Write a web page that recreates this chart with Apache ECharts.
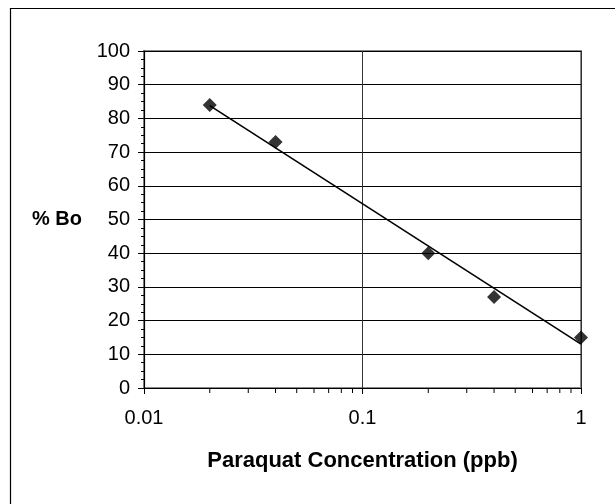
<!DOCTYPE html>
<html>
<head>
<meta charset="utf-8">
<script src="https://cdn.jsdelivr.net/npm/echarts@6/dist/echarts.min.js"></script>
<style>
html,body{margin:0;padding:0;background:#fff;}
#chart{width:615px;height:504px;}
</style>
</head>
<body>
<div id="chart"></div>
<script>
// Data
var concentration = [0.02, 0.04, 0.2, 0.4, 1];
var percentBo = [84, 73, 40, 27, 15];
// trend line end points
var trendX = [0.02, 1];
var trendY = [83.8, 13];
// x-axis minor tick positions (log decades)
var xMinorTicks = [0.02,0.03,0.04,0.05,0.06,0.07,0.08,0.09,0.2,0.3,0.4,0.5,0.6,0.7,0.8,0.9];
var xTickLabels = ['0.01', '0.1', '1'];
var xTitle = 'Paraquat Concentration (ppb)';
var yTitle = '% Bo';

var FONT = 'Liberation Sans, Arial, sans-serif';
var chart = echarts.init(document.getElementById('chart'), null, {renderer: 'canvas'});

var option = {
  backgroundColor: '#fff',
  animation: false,
  graphic: [{
    type: 'rect',
    left: 8, top: 6,
    shape: {width: 700, height: 600},
    style: {fill: 'none', stroke: '#000', lineWidth: 1.2},
    silent: true,
    z: -10
  }],
  grid: {
    left: 144, right: 34, top: 51, bottom: 116,
    show: true,
    borderColor: '#888',
    borderWidth: 2,
    backgroundColor: 'transparent'
  },
  xAxis: {
    type: 'log',
    logBase: 10,
    min: 0.01,
    max: 1,
    name: xTitle,
    nameLocation: 'middle',
    nameGap: 62,
    nameTextStyle: {fontFamily: FONT, fontSize: 22, fontWeight: 'bold', color: '#000'},
    axisLine: {show: true, lineStyle: {color: '#000', width: 1.2}},
    axisTick: {show: true, length: 6, lineStyle: {color: '#000', width: 1}},
    axisLabel: {
      fontFamily: FONT, fontSize: 20, color: '#000', margin: 20,
      formatter: function (v) {
        var idx = Math.round(Math.log10(v) + 2);
        return xTickLabels[idx] !== undefined ? xTickLabels[idx] : '';
      }
    },
    splitLine: {show: true, lineStyle: {color: '#333', width: 1}}
  },
  yAxis: {
    type: 'value',
    min: 0,
    max: 100,
    interval: 10,
    name: yTitle,
    nameLocation: 'middle',
    nameRotate: 0,
    nameGap: 62,
    nameTextStyle: {fontFamily: FONT, fontSize: 20, fontWeight: 'bold', color: '#000'},
    axisLine: {show: true, lineStyle: {color: '#000', width: 1.2}},
    axisTick: {show: true, length: 6, lineStyle: {color: '#000', width: 1}},
    minorTick: {show: true, splitNumber: 4, length: 3, lineStyle: {color: '#000', width: 1}},
    axisLabel: {fontFamily: FONT, fontSize: 20, color: '#000', margin: 14},
    splitLine: {show: true, lineStyle: {color: '#000', width: 1}}
  },
  series: [
    {
      type: 'line',
      name: 'trend',
      data: trendX.map(function (x, i) { return [x, trendY[i]]; }),
      showSymbol: false,
      symbol: 'none',
      lineStyle: {color: '#000', width: 1.6},
      z: 3
    },
    {
      type: 'scatter',
      name: '% Bo',
      data: concentration.map(function (x, i) { return [x, percentBo[i]]; }),
      symbol: 'diamond',
      symbolSize: 14,
      itemStyle: {color: '#000'},
      clip: false,
      z: 4
    },
    {
      type: 'custom',
      name: 'minorTicks',
      data: xMinorTicks.map(function (x) { return [x, 0]; }),
      clip: false,
      silent: true,
      renderItem: function (params, api) {
        var p = api.coord([api.value(0), api.value(1)]);
        return {
          type: 'line',
          shape: {x1: p[0], y1: p[1], x2: p[0], y2: p[1] + 5},
          style: {stroke: '#000', lineWidth: 1}
        };
      },
      z: 5
    }
  ]
};
chart.setOption(option);
</script>
</body>
</html>
